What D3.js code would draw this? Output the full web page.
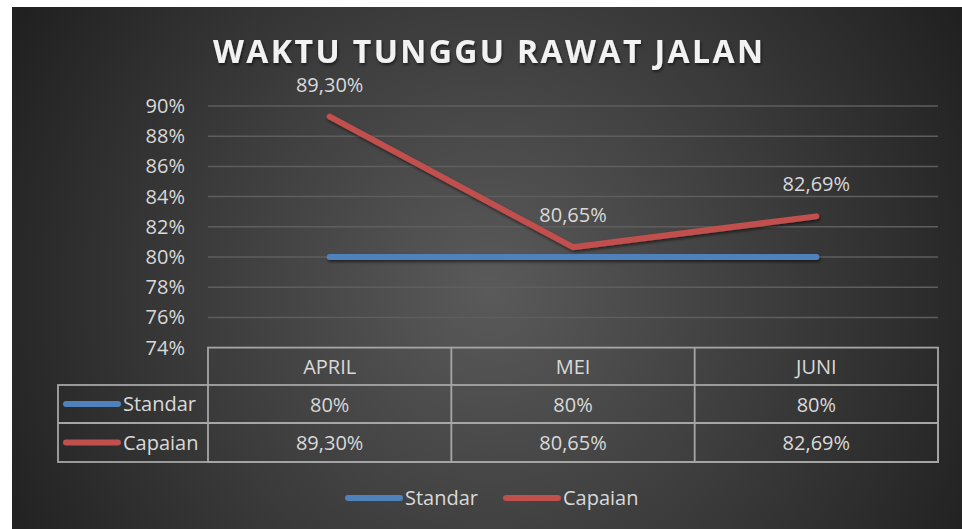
<!DOCTYPE html>
<html>
<head>
<meta charset="utf-8">
<script src="https://cdn.jsdelivr.net/npm/d3@7"></script>
<style>
  body { margin: 0; background: #fff; }
  svg { display: block; font-family: "Open Sans", sans-serif; }
</style>
</head>
<body>
<svg id="chart"></svg>
<script>
// data
const months = ["APRIL", "MEI", "JUNI"];
const standar = [80, 80, 80];
const capaian = [89.30, 80.65, 82.69];
const standarLabels = ["80%", "80%", "80%"];
const yTicks = [74, 76, 78, 80, 82, 84, 86, 88, 90];
const seriesNames = ["Standar", "Capaian"];
const seriesColors = ["#4f81bd", "#c0504d"];

let width = 962;
let height = 529;
let margin = { top: 106, right: 24, bottom: 181, left: 208 };
let fontSize = 20;

const locale = d3.formatLocale({ decimal: ",", thousands: ".", grouping: [3], currency: ["", ""] });
const fmt = v => locale.format(".2f")(v) + "%";

let svg = d3.select("#chart")
    .attr("width", width)
    .attr("height", height);

let defs = svg.append("defs");
let grad = defs.append("radialGradient")
    .attr("id", "bg")
    .attr("gradientUnits", "userSpaceOnUse")
    .attr("cx", 490).attr("cy", 290).attr("r", 560);
grad.append("stop").attr("offset", 0).attr("stop-color", "#5a5a5a");
grad.append("stop").attr("offset", 1).attr("stop-color", "#1f1f1f");

// user space region so flat lines are not clipped away
let shadow = defs.append("filter").attr("id", "shadow")
    .attr("filterUnits", "userSpaceOnUse")
    .attr("x", 0).attr("y", 0).attr("width", width).attr("height", height);
shadow.append("feDropShadow")
    .attr("dx", 1).attr("dy", 2).attr("stdDeviation", 1.5)
    .attr("flood-color", "#000").attr("flood-opacity", 0.55);

// background
svg.append("rect")
    .attr("x", 12).attr("y", 7)
    .attr("width", width - 12).attr("height", height - 7)
    .attr("fill", "url(#bg)");

// scales
let x = d3.scaleBand()
    .domain(months)
    .range([margin.left, width - margin.right])
    .padding(0);

let y = d3.scaleLinear()
    .domain([74, 90])
    .range([height - margin.bottom - 0.4, margin.top]);

// title
svg.append("text")
    .attr("x", 488)
    .attr("y", 63)
    .attr("text-anchor", "middle")
    .attr("fill", "#f2f2f2")
    .attr("font-size", 32)
    .attr("font-weight", "bold")
    .attr("textLength", 550)
    .attr("lengthAdjust", "spacing")
    .attr("filter", "url(#shadow)")
    .text("WAKTU TUNGGU RAWAT JALAN");

// gridlines
svg.append("g")
    .selectAll("line")
    .data(yTicks.slice(1))
    .join("line")
    .attr("x1", margin.left)
    .attr("x2", width - margin.right)
    .attr("y1", d => y(d))
    .attr("y2", d => y(d))
    .attr("stroke", "#5e5e5e")
    .attr("stroke-width", 1.5);

// y axis labels
svg.append("g")
    .selectAll("text")
    .data(yTicks)
    .join("text")
    .attr("x", 185)
    .attr("y", d => y(d) + 7)
    .attr("text-anchor", "end")
    .attr("fill", "#d9d9d9")
    .attr("font-size", fontSize)
    .text(d => d + "%");

// lines
let line = d3.line()
    .x((d, i) => x(months[i]) + x.bandwidth() / 2)
    .y(d => y(d));

[standar, capaian].forEach((values, k) => {
    svg.append("path")
        .datum(values)
        .attr("d", line)
        .attr("fill", "none")
        .attr("stroke", seriesColors[k])
        .attr("stroke-width", 6)
        .attr("stroke-linecap", "round")
        .attr("stroke-linejoin", "round")
        .attr("filter", "url(#shadow)");
});

// data labels
svg.append("g")
    .selectAll("text")
    .data(capaian)
    .join("text")
    .attr("x", (d, i) => x(months[i]) + x.bandwidth() / 2)
    .attr("y", d => y(d) - 25)
    .attr("text-anchor", "middle")
    .attr("fill", "#d9d9d9")
    .attr("font-size", fontSize)
    .text(d => fmt(d));

// data table
let rowY = [y(74), 385, 423, 462];
let tableLeft = 58;
let grid = svg.append("g")
    .attr("stroke", "#a6a6a6")
    .attr("stroke-width", 1.8)
    .attr("fill", "none");

grid.append("rect")
    .attr("x", margin.left).attr("y", rowY[0])
    .attr("width", width - margin.right - margin.left)
    .attr("height", rowY[3] - rowY[0]);
grid.append("rect")
    .attr("x", tableLeft).attr("y", rowY[1])
    .attr("width", width - margin.right - tableLeft)
    .attr("height", rowY[3] - rowY[1]);
grid.append("line")
    .attr("x1", tableLeft).attr("x2", width - margin.right)
    .attr("y1", rowY[2]).attr("y2", rowY[2]);
grid.selectAll("line.col")
    .data(months.slice(1))
    .join("line")
    .attr("class", "col")
    .attr("x1", d => x(d)).attr("x2", d => x(d))
    .attr("y1", rowY[0]).attr("y2", rowY[3]);

let cellText = (sel) => sel
    .attr("text-anchor", "middle")
    .attr("fill", "#d9d9d9")
    .attr("font-size", fontSize);

svg.append("g").selectAll("text")
    .data(months).join("text")
    .attr("x", d => x(d) + x.bandwidth() / 2)
    .attr("y", 374)
    .call(cellText)
    .text(d => d);

svg.append("g").selectAll("text")
    .data(standarLabels).join("text")
    .attr("x", (d, i) => x(months[i]) + x.bandwidth() / 2)
    .attr("y", 412)
    .call(cellText)
    .text(d => d);

svg.append("g").selectAll("text")
    .data(capaian).join("text")
    .attr("x", (d, i) => x(months[i]) + x.bandwidth() / 2)
    .attr("y", 450)
    .call(cellText)
    .text(d => fmt(d));

// table legend keys
seriesNames.forEach((name, k) => {
    let cy = (rowY[k + 1] + rowY[k + 2]) / 2;
    svg.append("line")
        .attr("x1", 66).attr("x2", 118)
        .attr("y1", cy).attr("y2", cy)
        .attr("stroke", seriesColors[k])
        .attr("stroke-width", 6)
        .attr("stroke-linecap", "round");
    svg.append("text")
        .attr("x", 123).attr("y", cy + 7)
        .attr("fill", "#d9d9d9")
        .attr("font-size", fontSize)
        .text(name);
});

// bottom legend
let legendX = [345, 503];
seriesNames.forEach((name, k) => {
    let lx = legendX[k];
    svg.append("line")
        .attr("x1", lx + 3).attr("x2", lx + 55)
        .attr("y1", 498).attr("y2", 498)
        .attr("stroke", seriesColors[k])
        .attr("stroke-width", 6)
        .attr("stroke-linecap", "round");
    svg.append("text")
        .attr("x", lx + 60).attr("y", 505)
        .attr("fill", "#d9d9d9")
        .attr("font-size", fontSize)
        .text(name);
});
</script>
</body>
</html>
